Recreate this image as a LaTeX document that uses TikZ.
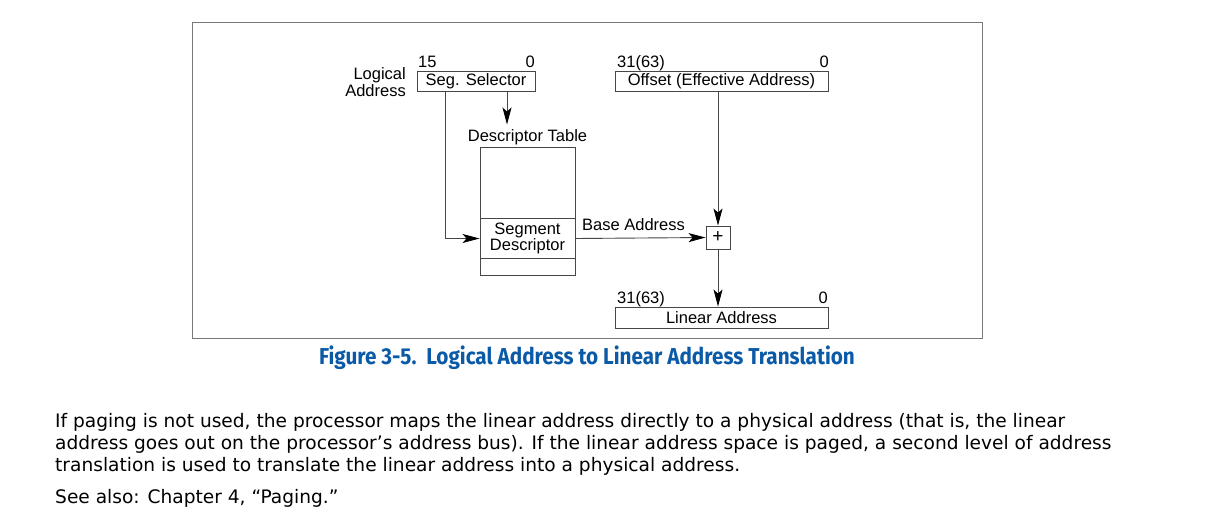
\documentclass[tikz,border=0pt]{standalone}
\usepackage{fontspec}
\setmainfont{Liberation Sans}
\newfontfamily\bodyfont{DejaVu Sans}
\newfontfamily\capfont{Fira Sans}[FakeStretch=0.9]
\usetikzlibrary{arrows.meta}
\definecolor{capblue}{RGB}{10,90,168}
\definecolor{linegray}{RGB}{70,70,70}
\definecolor{framegray}{RGB}{120,120,120}
\begin{document}
\begin{tikzpicture}[x=1pt,y=-1pt,
  box/.style={draw=linegray, line width=0.9pt, inner sep=0pt, font=\fontsize{16.5}{15.5}\selectfont},
  lbl/.style={inner sep=0pt, font=\fontsize{16.5}{15.5}\selectfont},
  conn/.style={draw=linegray, line width=0.9pt, -{Stealth[length=17pt,width=9pt,inset=4pt,fill=black,color=black]}},
  bodytext/.style={inner sep=0pt, anchor=base west, font=\bodyfont\fontsize{18.6}{22}\selectfont},
]
\useasboundingbox (0,0) rectangle (1214,517);
\fill[white] (0,0) rectangle (1214,517);
% frame
\draw[framegray, line width=1pt] (192,22) rectangle (982,338);

% boxes
\node[box, minimum width=118pt, minimum height=20pt] (segsel) at (476,81) {Seg. Selector};
\node[box, minimum width=213pt, minimum height=20pt] (offset) at (721.5,81) {Offset (Effective Address)};
\node[box, minimum width=95pt, minimum height=128pt] (table) at (527.5,211) {};
\node[box, minimum width=95pt, minimum height=40pt, align=center] (segdesc) at (527.5,238.5) {Segment\\Descriptor};
\node[box, minimum width=24pt, minimum height=23pt, font=\fontsize{19}{19}\selectfont] (plus) at (718,237.5) {+};
\node[box, minimum width=213pt, minimum height=21pt] (linear) at (721.5,317.5) {Linear Address};

% labels
\node[lbl, anchor=base east] (lg1) at (406,79) {Logical};
\node[lbl, anchor=base east] (lg2) at (406,96) {Address};
\node[lbl, anchor=base west] (s15) at (418,67) {15};
\node[lbl, anchor=base east] (s0) at (535,67) {0};
\node[lbl, anchor=base west] (o31) at (617,67) {31(63)};
\node[lbl, anchor=base east] (o0) at (829,67) {0};
\node[lbl, anchor=base west] (l31) at (617,303) {31(63)};
\node[lbl, anchor=base east] (l0) at (828,303) {0};
\node[lbl, anchor=base] (dtl) at (527.5,141) {Descriptor Table};
\node[lbl, anchor=base west] (bal) at (582,230) {Base Address};

% connectors
\coordinate (selout) at (507,91);
\coordinate (dtin) at (507,124.5);
\draw[conn] (selout) -- (dtin);
\coordinate (idx) at (445,91);
\draw[conn] (idx) |- (segdesc.west);
\draw[conn] (segdesc.east) -- (plus.west);
\draw[conn] (plus.north |- offset.south) -- (plus.north);
\draw[conn] (plus.south) -- (plus.south |- linear.north);

% caption
\node[inner sep=0pt, anchor=base, text=capblue, font=\capfont\bfseries\fontsize{23}{25}\selectfont] (cap) at (587,364) {Figure 3-5.\ \ Logical Address to Linear Address Translation};

% body text
\node[bodytext] (b1) at (55,427) {If paging is not used, the processor maps the linear address directly to a physical address (that is, the linear};
\node[bodytext] (b2) at (55,449) {address goes out on the processor’s address bus). If the linear address space is paged, a second level of address};
\node[bodytext] (b3) at (55,471) {translation is used to translate the linear address into a physical address.};
\node[bodytext] (b4) at (55,503.5) {See also: Chapter 4, “Paging.”};
\end{tikzpicture}
\end{document}
